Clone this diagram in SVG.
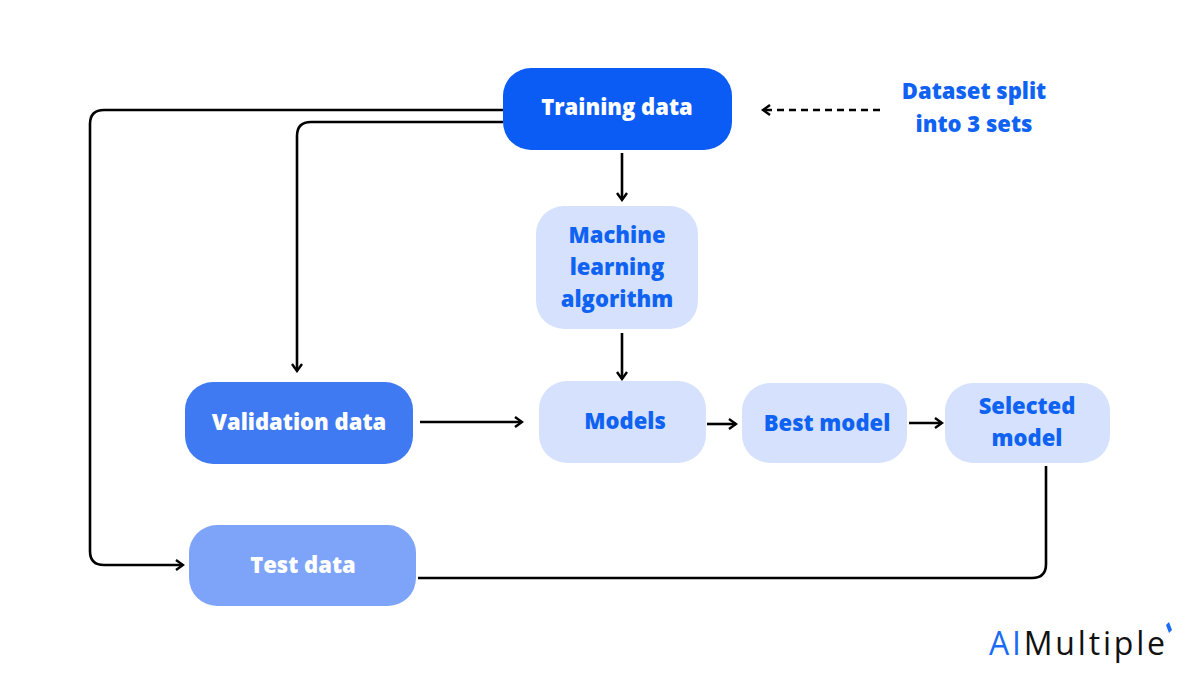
<svg xmlns="http://www.w3.org/2000/svg" width="1200" height="675" viewBox="0 0 1200 675">
<style>
.t{font-family:"Open Sans","Liberation Sans",sans-serif;font-weight:800;font-size:22px;text-anchor:middle}
.w{fill:#fff}.b{fill:#0f62f2}
.c{fill:none;stroke:#000;stroke-width:2.6}
</style>
<defs>
<marker id="a" viewBox="0 0 12 12" refX="10" refY="6" markerWidth="12" markerHeight="12" markerUnits="userSpaceOnUse" orient="auto">
<polyline points="3,1 10,6 3,11" fill="none" stroke="#000" stroke-width="2.4"/>
</marker>
</defs>
<rect width="1200" height="675" fill="#fff"/>
<g id="connectors">
<path class="c" d="M503,110 H104 Q90,110 90,124 V551 Q90,565 104,565 H183" marker-end="url(#a)"/>
<path class="c" d="M503,122 H311 Q297,122 297,136 V371" marker-end="url(#a)"/>
<path class="c" d="M622,153 V200" marker-end="url(#a)"/>
<path class="c" d="M622,333 V379" marker-end="url(#a)"/>
<path class="c" d="M420,422 H522" marker-end="url(#a)"/>
<path class="c" d="M707,424 H736" marker-end="url(#a)"/>
<path class="c" d="M909,423 H942" marker-end="url(#a)"/>
<path class="c" d="M1046,466 V564 Q1046,578 1032,578 H418"/>
<path class="c" d="M880,110 H763" stroke-dasharray="7,5" marker-end="url(#a)"/>
</g>
<g id="training"><rect x="503" y="68" width="229" height="82" rx="28" fill="#0a5cf5"/><text class="t w" x="617" y="115">Training data</text></g>
<g id="ml"><rect x="536" y="206" width="162" height="123" rx="28" fill="#d6e2fd"/><text class="t b" x="617" y="243">Machine</text><text class="t b" x="617" y="275">learning</text><text class="t b" x="617" y="307">algorithm</text></g>
<g id="validation"><rect x="185" y="382" width="228" height="82" rx="28" fill="#3f7af2"/><text class="t w" x="299" y="430">Validation data</text></g>
<g id="models"><rect x="539" y="381" width="167" height="82" rx="28" fill="#d6e2fd"/><text class="t b" x="625" y="429">Models</text></g>
<g id="best"><rect x="742" y="383" width="165" height="80" rx="28" fill="#d6e2fd"/><text class="t b" x="827" y="431">Best model</text></g>
<g id="selected"><rect x="945" y="383" width="165" height="80" rx="28" fill="#d6e2fd"/><text class="t b" x="1027" y="414">Selected</text><text class="t b" x="1027" y="446">model</text></g>
<g id="test"><rect x="189" y="525" width="227" height="81" rx="28" fill="#7da4f8"/><text class="t w" x="303" y="573">Test data</text></g>
<g id="note"><text class="t b" x="974" y="99">Dataset split</text><text class="t b" x="974" y="132">into 3 sets</text></g>
<g id="logo"><text x="989" y="655" font-family="'Open Sans','Liberation Sans',sans-serif" font-size="32" fill="#111" textLength="176"><tspan fill="#1a6cf5">AI</tspan>Multiple</text><path d="M1166,625 l3,-3 l3,8 l-3,3 z" fill="#1a6cf5"/></g>
</svg>
